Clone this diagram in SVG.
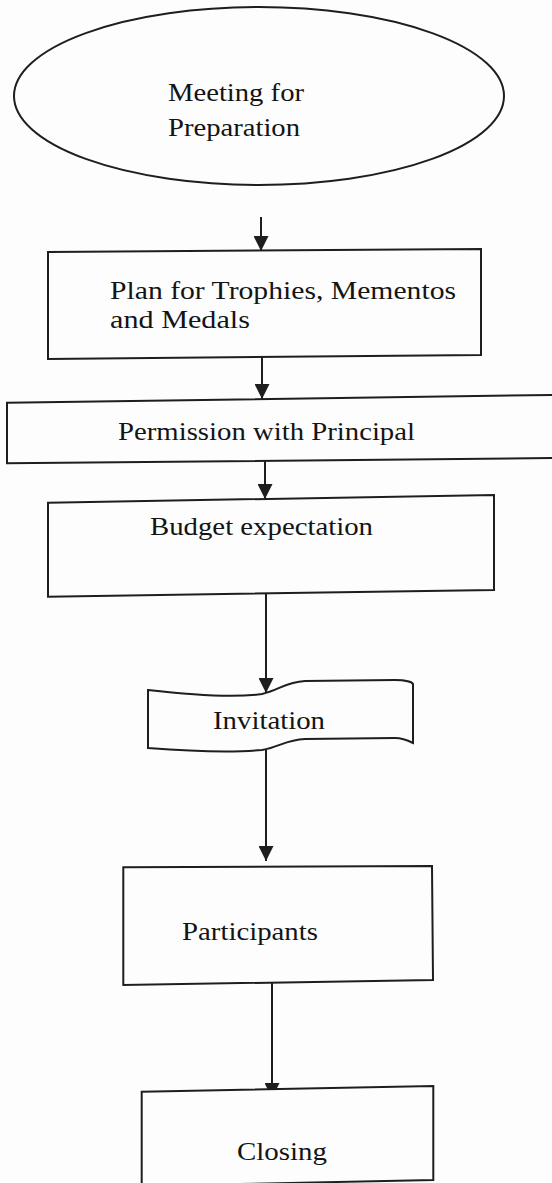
<svg xmlns="http://www.w3.org/2000/svg" width="552" height="1183" viewBox="0 0 552 1183">
<style>
.shape{fill:#fdfdfd;stroke:#1e1e1e;stroke-width:2}
.lbl{font-family:"Liberation Serif","Times New Roman",serif;font-size:26px;fill:#141414}
.conn{stroke:#1e1e1e;stroke-width:2;fill:none}
</style>
<defs>
<marker id="arr" viewBox="0 0 15 15" refX="15" refY="7.5" markerWidth="15" markerHeight="15" markerUnits="userSpaceOnUse" orient="auto">
<path d="M0,0 L15,7.5 L0,15 Z" fill="#1e1e1e"/>
</marker>
</defs>
<rect x="0" y="0" width="552" height="1183" fill="#fdfdfd"/>
<g id="connectors">
<line class="conn" x1="261" y1="217" x2="261" y2="251" marker-end="url(#arr)"/>
<line class="conn" x1="262" y1="357" x2="262" y2="399" marker-end="url(#arr)"/>
<line class="conn" x1="265" y1="461" x2="265" y2="499" marker-end="url(#arr)"/>
<line class="conn" x1="266" y1="594" x2="266" y2="693" marker-end="url(#arr)"/>
<line class="conn" x1="266" y1="750" x2="266" y2="861" marker-end="url(#arr)"/>
<line class="conn" x1="272" y1="983" x2="272" y2="1098" marker-end="url(#arr)"/>
</g>
<g id="node-meeting">
<ellipse class="shape" cx="259" cy="96" rx="245" ry="89"/>
<text class="lbl" x="168" y="101" textLength="136" lengthAdjust="spacingAndGlyphs">Meeting for</text>
<text class="lbl" x="168" y="136" textLength="132" lengthAdjust="spacingAndGlyphs">Preparation</text>
</g>
<g id="node-plan">
<polygon class="shape" points="48,252 481,249 481,355 48,359"/>
<text class="lbl" x="110" y="299" textLength="346" lengthAdjust="spacingAndGlyphs">Plan for Trophies, Mementos</text>
<text class="lbl" x="110" y="328" textLength="140" lengthAdjust="spacingAndGlyphs">and Medals</text>
</g>
<g id="node-permission">
<polygon class="shape" points="7,402.7 560,394.8 560,458 7,463.3"/>
<text class="lbl" x="118" y="440" textLength="297" lengthAdjust="spacingAndGlyphs">Permission with Principal</text>
</g>
<g id="node-budget">
<polygon class="shape" points="48,502.7 494,495 494,590 48,596.7"/>
<text class="lbl" x="150" y="535" textLength="223" lengthAdjust="spacingAndGlyphs">Budget expectation</text>
</g>
<g id="node-invitation">
<path class="shape" d="M148,690 C200,696 240,697 262,694 C280,690 285,682 305,681 L395,680 C405,680 412,682 413,684 L413,743 C405,739 400,738 395,738 L305,739 C285,740 280,747 262,750 C240,752 200,752 148,748 Z"/>
<text class="lbl" x="213" y="729" textLength="112" lengthAdjust="spacingAndGlyphs">Invitation</text>
</g>
<g id="node-participants">
<polygon class="shape" points="123.3,867.3 432,866 433,980 123.3,985"/>
<text class="lbl" x="182" y="940" textLength="136" lengthAdjust="spacingAndGlyphs">Participants</text>
</g>
<g id="node-closing">
<polygon class="shape" points="141.7,1091.7 433.3,1086 433.3,1180 141.7,1186"/>
<text class="lbl" x="237" y="1160" textLength="90" lengthAdjust="spacingAndGlyphs">Closing</text>
</g>
</svg>
